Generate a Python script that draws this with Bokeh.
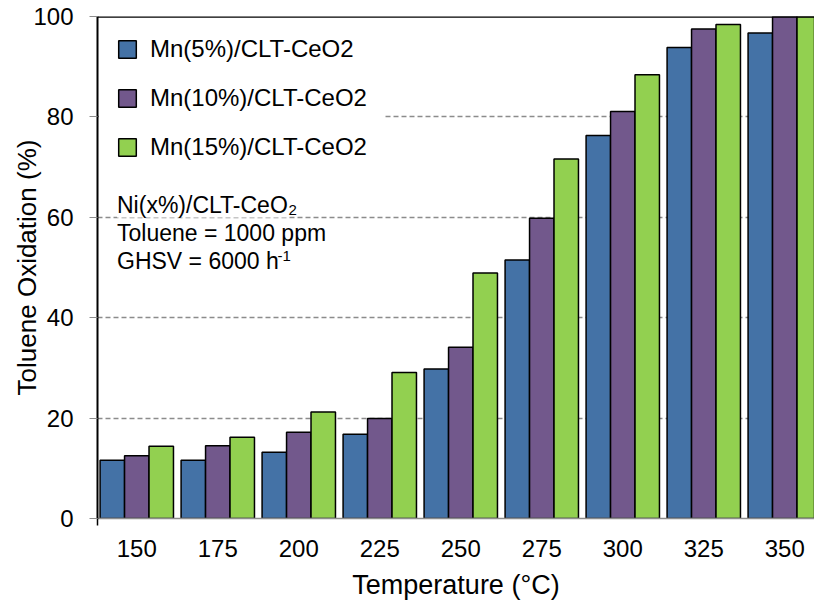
import numpy as np
from bokeh.plotting import figure
from bokeh.models import FixedTicker, Range1d, Span, Label
from bokeh.embed import file_html
from bokeh.resources import INLINE

temps = ["150", "175", "200", "225", "250", "275", "300", "325", "350"]
mn5 = [11.6, 11.6, 13.2, 16.8, 29.8, 51.5, 76.3, 93.8, 96.7]
mn10 = [12.5, 14.5, 17.2, 19.9, 34.1, 59.8, 81.1, 97.5, 100.0]
mn15 = [14.4, 16.2, 21.2, 29.1, 48.9, 71.6, 88.4, 98.4, 100.0]
series_names = ["Mn(5%)/CLT-CeO2", "Mn(10%)/CLT-CeO2", "Mn(15%)/CLT-CeO2"]
colors = ["#4472A6", "#72588C", "#92D050"]
y_ticks = [0, 20, 40, 60, 80, 100]

FONT = "Liberation Sans"
idx = np.arange(len(temps))
x_start = -0.485
x_end = 8.367

p = figure(width=814, height=602, output_backend="svg", toolbar_location=None,
           x_range=Range1d(x_start, x_end), y_range=Range1d(0, 100),
           min_border_left=97, min_border_right=0, min_border_top=16, min_border_bottom=84)
p.outline_line_color = None
p.background_fill_color = "white"

bw = 0.302
for vals, name, col, off in zip([mn5, mn10, mn15], series_names, colors, [-bw, 0, bw]):
    p.vbar(x=idx + off, top=vals, bottom=0, width=bw, fill_color=col,
           line_color="black", line_width=1.5, legend_label=name)

# grid
p.xgrid.visible = False
p.ygrid.ticker = FixedTicker(ticks=y_ticks)
p.ygrid.grid_line_color = "#8c8c8c"
p.ygrid.grid_line_dash = "5 3"
p.ygrid.grid_line_width = 1.5

# y axis
ya = p.yaxis[0]
ya.ticker = FixedTicker(ticks=y_ticks)
ya.axis_line_color = "black"
ya.axis_line_width = 2
ya.major_tick_out = 8
ya.major_tick_in = 0
ya.major_tick_line_color = "#8c8c8c"
ya.minor_tick_line_color = None
ya.major_label_standoff = 16
ya.major_label_text_font = FONT
ya.major_label_text_font_size = "24px"
ya.major_label_text_color = "black"
ya.axis_label = "Toluene Oxidation (%)"
ya.axis_label_text_font = FONT
ya.axis_label_text_font_size = "26px"
ya.axis_label_text_font_style = "normal"
ya.axis_label_text_color = "black"
ya.axis_label_standoff = -12

# x axis
xa = p.xaxis[0]
xa.ticker = FixedTicker(ticks=list(idx), minor_ticks=[x_start + 0.002])
xa.major_label_overrides = {int(i): t for i, t in zip(idx, temps)}
xa.axis_line_color = "#8c8c8c"
xa.axis_line_width = 1.5
xa.major_tick_line_color = None
xa.major_tick_out = 0
xa.major_tick_in = 0
xa.minor_tick_out = 7
xa.minor_tick_in = 0
xa.minor_tick_line_color = "black"
xa.minor_tick_line_width = 1.5
xa.major_label_standoff = 14
xa.major_label_text_font = FONT
xa.major_label_text_font_size = "24px"
xa.major_label_text_color = "black"
xa.axis_label = "Temperature (°C)"
xa.axis_label_text_font = FONT
xa.axis_label_text_font_size = "27px"
xa.axis_label_text_font_style = "normal"
xa.axis_label_text_color = "black"
xa.axis_label_standoff = 10

# top border
p.add_layout(Span(location=100, dimension="width", line_color="black", line_width=2.5))

# legend
lg = p.legend[0]
lg.location = "top_left"
lg.margin = 2
lg.padding = 16
lg.border_line_color = "white"
lg.border_line_alpha = 1.0
lg.border_line_width = 1
lg.background_fill_color = "white"
lg.background_fill_alpha = 1.0
lg.label_text_font = FONT
lg.label_text_font_size = "24px"
lg.label_text_color = "black"
lg.glyph_width = 22
lg.glyph_height = 22
lg.label_height = 22
lg.spacing = 21
lg.label_standoff = 12

# annotation text
ann_lines = ["Ni(x%)/CLT-CeO", "Toluene = 1000 ppm", "GHSV = 6000 h"]
ann_y = [314, 286, 258]
for t, yy in zip(ann_lines, ann_y):
    p.add_layout(Label(x=19.5, y=yy, x_units="screen", y_units="screen", text=t,
                       text_font=FONT, text_font_size="23px", text_color="black",
                       text_baseline="alphabetic", background_fill_color="white"))
p.add_layout(Label(x=191, y=309, x_units="screen", y_units="screen", text="2",
                   text_font=FONT, text_font_size="15px", text_color="black",
                   text_baseline="alphabetic"))
p.add_layout(Label(x=180, y=263, x_units="screen", y_units="screen", text="-1",
                   text_font=FONT, text_font_size="15px", text_color="black",
                   text_baseline="alphabetic"))

open("out.html", "w").write(file_html(p, INLINE))
